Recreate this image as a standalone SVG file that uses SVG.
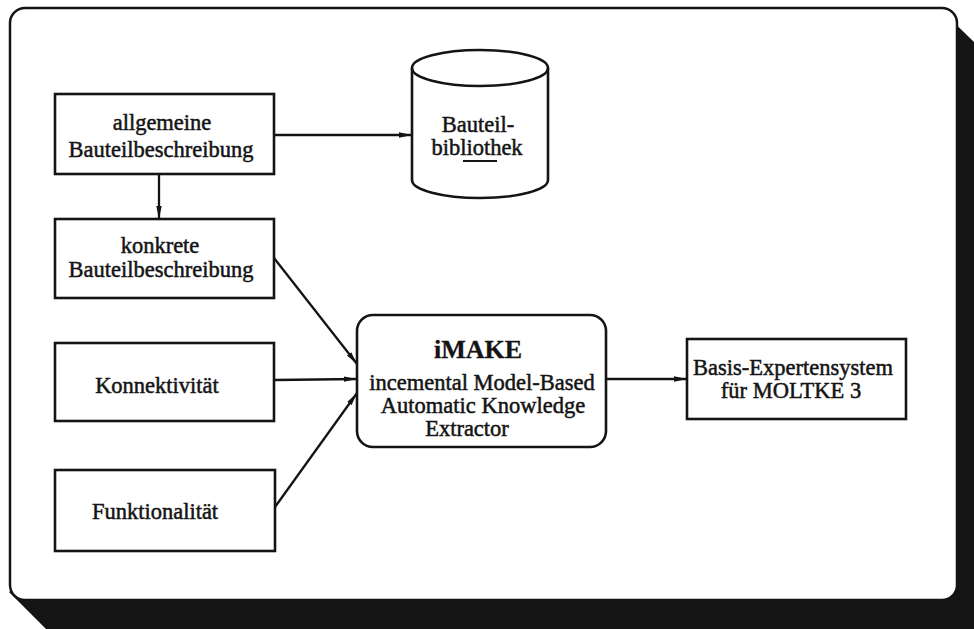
<svg xmlns="http://www.w3.org/2000/svg" width="974" height="629" viewBox="0 0 974 629">
  <style>
    .box { fill: #fff; stroke: #141414; stroke-width: 2.6; }
    .lbl { font-family: "Liberation Serif", "Times New Roman", serif; font-size: 22.5px; fill: #141414; stroke: #141414; stroke-width: 0.5; text-anchor: middle; }
    .title { font-size: 26px; font-weight: bold; stroke-width: 0.3; }
    .edge { fill: none; stroke: #141414; stroke-width: 2.3; marker-end: url(#arrow); }
  </style>
  <defs>
    <marker id="arrow" viewBox="0 0 13 7" refX="13" refY="3.5" markerWidth="13" markerHeight="7" markerUnits="userSpaceOnUse" orient="auto">
      <path d="M0,0.8 L13,3.5 L0,6.2 Z" fill="#141414"/>
    </marker>
  </defs>

  <rect width="974" height="629" fill="#fff"/>

  <!-- frame with drop shadow -->
  <g id="frame">
    <polygon points="938,7 974,42 974,629 46,629 9,592" fill="#141414"/>
    <rect x="10" y="8" width="947" height="592" rx="15" ry="15" fill="#fff" stroke="#141414" stroke-width="2.5"/>
  </g>

  <!-- connectors -->
  <g id="connectors">
    <line class="edge" x1="274" y1="135" x2="412" y2="135"/>
    <line class="edge" x1="159" y1="174" x2="159" y2="219"/>
    <line class="edge" x1="274" y1="258" x2="357" y2="364"/>
    <line class="edge" x1="275" y1="380" x2="357" y2="379"/>
    <line class="edge" x1="275" y1="507" x2="357" y2="393"/>
    <line class="edge" x1="606" y1="379" x2="687" y2="379"/>
  </g>

  <g id="allgemeine">
    <rect class="box" x="55" y="94" width="219" height="80"/>
    <text class="lbl" x="162" y="130">allgemeine</text>
    <text class="lbl" x="161" y="157">Bauteilbeschreibung</text>
  </g>

  <g id="bibliothek">
    <path class="box" d="M412,68 A68,18 0 0 1 548,68 L548,180 A68,18 0 0 1 412,180 Z"/>
    <path d="M412,68 A68,18 0 0 0 548,68" fill="none" stroke="#141414" stroke-width="2.6"/>
    <text class="lbl" x="478" y="132">Bauteil-</text>
    <text class="lbl" x="477" y="155">bibliothek</text>
    <line x1="463" y1="161" x2="497" y2="161" stroke="#141414" stroke-width="1.8"/>
  </g>

  <g id="konkrete">
    <rect class="box" x="55" y="219" width="219" height="79"/>
    <text class="lbl" x="160" y="253">konkrete</text>
    <text class="lbl" x="161" y="277">Bauteilbeschreibung</text>
  </g>

  <g id="konnektivitaet">
    <rect class="box" x="55" y="343" width="219" height="78"/>
    <text class="lbl" x="157" y="393">Konnektivität</text>
  </g>

  <g id="funktionalitaet">
    <rect class="box" x="55" y="470" width="220" height="81"/>
    <text class="lbl" x="155" y="519">Funktionalität</text>
  </g>

  <g id="imake">
    <rect class="box" x="357" y="315" width="249" height="132" rx="16" ry="16"/>
    <text class="lbl title" x="478" y="358">iMAKE</text>
    <text class="lbl" x="482" y="390">incemental Model-Based</text>
    <text class="lbl" x="483" y="413">Automatic Knowledge</text>
    <text class="lbl" x="467" y="436">Extractor</text>
  </g>

  <g id="basis">
    <rect class="box" x="687" y="339" width="219" height="80"/>
    <text class="lbl" x="793" y="375">Basis-Expertensystem</text>
    <text class="lbl" x="791" y="398">für MOLTKE 3</text>
  </g>
</svg>
